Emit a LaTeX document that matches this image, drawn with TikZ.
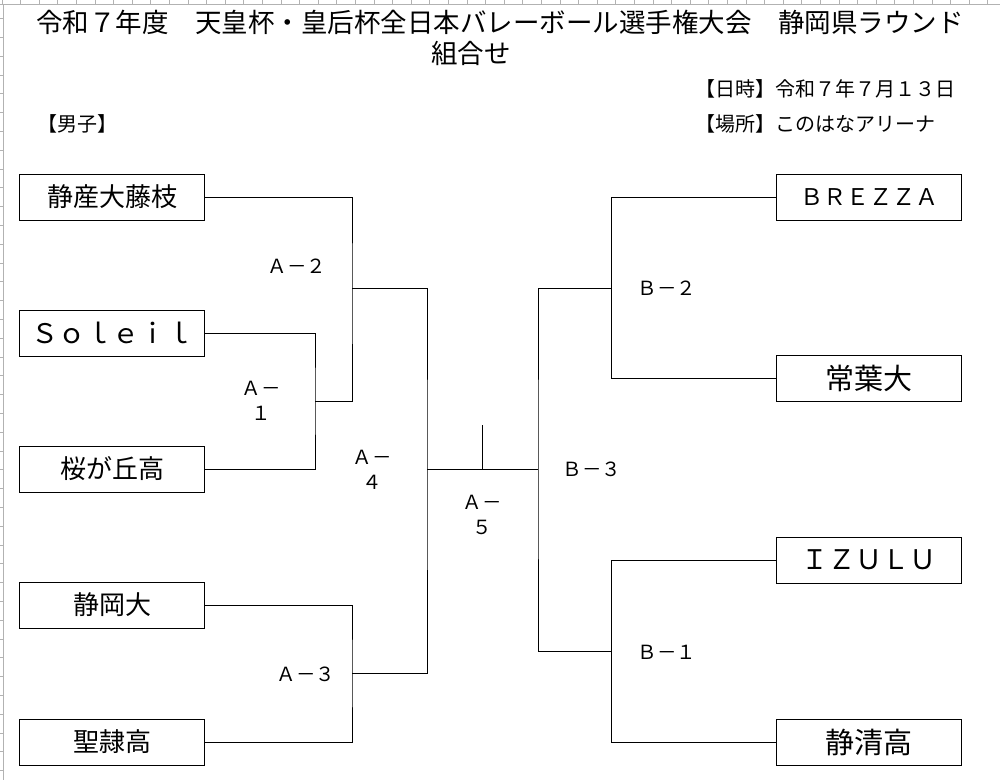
\documentclass[tikz,border=0pt]{standalone}
\usepackage{fontspec}
\setmainfont{Noto Sans CJK JP}
\usepackage{tikz}
\usetikzlibrary{positioning}

\newcommand{\setfs}[2][1.2]{\fontsize{#2}{#1\dimexpr#2pt\relax}\selectfont}

\begin{document}
\begin{tikzpicture}[
            x=1pt,y=-1pt,
            team/.style={
              draw,
              line width=0.9pt,
              minimum width=185pt,
              minimum height=46pt,
              inner sep=0pt,
              font=\setfs{26}
            },
            match/.style={
              align=center,
              inner sep=0pt,
              font=\setfs[1.3]{19.5}
            },
            info/.style={
              anchor=west,
              inner sep=0pt,
              font=\setfs{20}
            },
            bracket/.style={line width=0.9pt},
            grid/.style={draw=black!30,line width=0.8pt}
            ]
            \useasboundingbox (0,0) rectangle (1000,780);
            % sheet edges
            \draw[grid] (0,4) -- (1000,4);
            \draw[grid] (3,4) -- (3,780);
            \foreach \x in {2,20.6,...,1000} \draw[grid] (\x,0) -- (\x,4);
            \foreach \y in {18.5,37.3,...,780} \draw[grid] (0,\y) -- (3,\y);

            % heading
            \node[font=\setfs{26.5}] (title) at (500,22)
              {令和７年度　天皇杯・皇后杯全日本バレーボール選手権大会　静岡県ラウンド};
            \node[font=\setfs{26.5}] (sub) at (471,53) {組合せ};
            \node[info] (date) at (695,89) {【日時】令和７年７月１３日};
            \node[info] (place) at (695,124) {【場所】このはなアリーナ};
            \node[info] (men) at (37,124) {【男子】};

            % teams, left
            \node[team] (t1) at (112,197) {静産大藤枝};
            \node[team,font=\setfs{27}] (t2) at (112,333) {Ｓｏｌｅｉｌ};
            \node[team] (t3) at (112,469) {桜が丘高};
            \node[team] (t4) at (112,605) {静岡大};
            \node[team] (t5) at (112,742) {聖隷高};
            % teams, right
            \node[team,font=\setfs{23}] (r1) at (869,197) {ＢＲＥＺＺＡ};
            \node[team,font=\setfs{29}] (r2) at (869,378) {常葉大};
            \node[team,font=\setfs{27}] (r3) at (869,560) {ＩＺＵＬＵ};
            \node[team,font=\setfs{29}] (r4) at (869,742) {静清高};

            \coordinate (a1) at (315,401);
            \coordinate (a2) at (352,288);
            \coordinate (a3) at (352,673);
            \coordinate (a4) at (427,469);
            \coordinate (a5) at (482,469);
            \coordinate (win) at (482,425);
            \coordinate (b3) at (538,469);
            \coordinate (b2) at (611,288);
            \coordinate (b1) at (611,651);

            \draw[bracket] (t2.east) -| (a1) |- (t3.east);
            \draw[bracket] (t1.east) -| (a2) |- (a1);
            \draw[bracket] (t4.east) -| (a3) |- (t5.east);
            \draw[bracket] (a2) -| (a4) |- (a3);
            \draw[bracket] (a4) -- (a5) -- (b3);
            \draw[bracket] (a5) -- (win);
            \draw[bracket] (r1.west) -| (b2) |- (r2.west);
            \draw[bracket] (r3.west) -| (b1) |- (r4.west);
            \draw[bracket] (b2) -| (b3) |- (b1);

            % match labels
            \node[match] (la2) at (297,266) {Ａ－２};
            \node[match] (la1) at (261,401) {Ａ－\\１};
            \node[match] (la3) at (306,674) {Ａ－３};
            \node[match] (la4) at (372,470) {Ａ－\\４};
            \node[match] (la5) at (482,515) {Ａ－\\５};
            \node[match] (lb2) at (667,288) {Ｂ－２};
            \node[match] (lb3) at (592,469) {Ｂ－３};
            \node[match] (lb1) at (667,652) {Ｂ－１};
        \end{tikzpicture}
\end{document}
